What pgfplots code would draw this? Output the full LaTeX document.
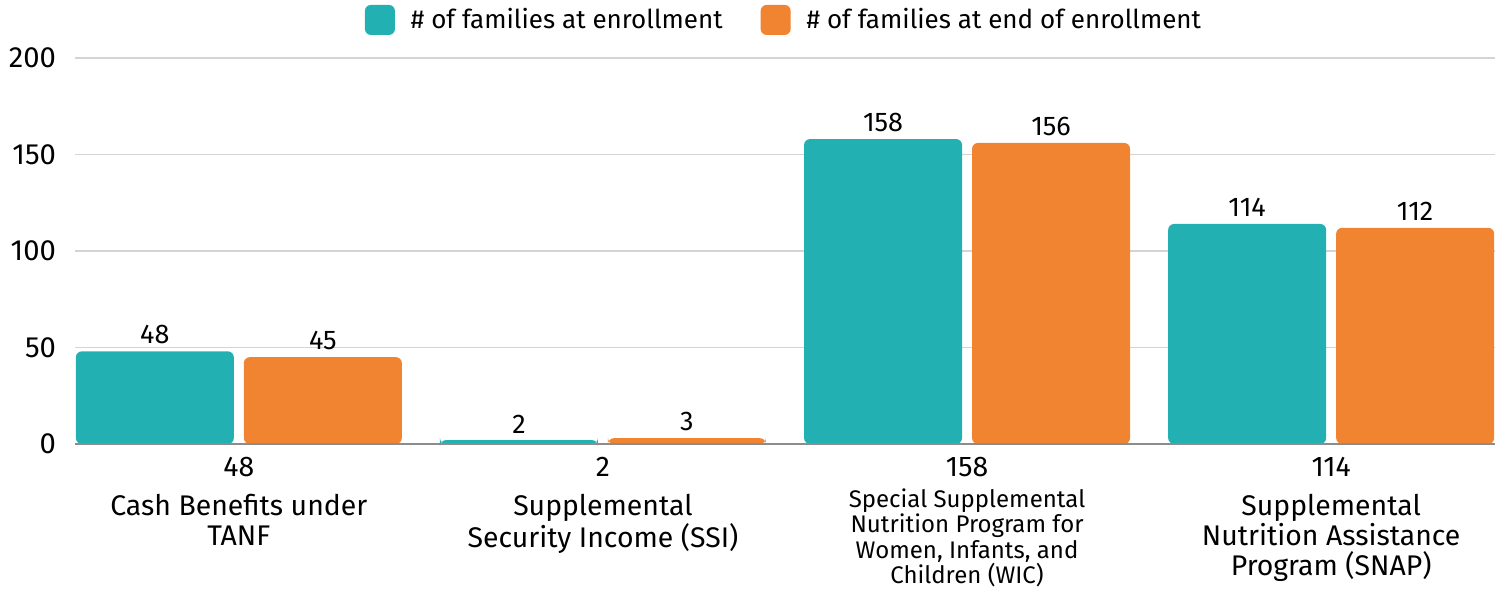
\documentclass[border=0pt]{standalone}
\usepackage{pgfplots}
\pgfplotsset{compat=1.18}
\usepackage{fontspec}
\setmainfont{Fira Sans}
\definecolor{teal1}{HTML}{23B0B3}
\definecolor{orange1}{HTML}{F08431}
\newcommand\sm{\fontsize{12}{12.75}\selectfont}
\begin{document}
\begin{tikzpicture}
\begin{axis}[
  scale only axis, width=710pt, height=193pt,
  xmin=-0.45, xmax=3.45, ymin=0, ymax=200,
  ytick={0,50,100,150,200},
  xtick={0,1,2,3},
  xticklabels={
    {48\\[4.5pt]Cash Benefits under\\TANF},
    {2\\[4.5pt]Supplemental\\Security Income (SSI)},
    {158\\[0.5pt]\sm Special Supplemental\\[-2.25pt]\sm Nutrition Program for\\[-2.25pt]\sm Women, Infants, and\\[-2.25pt]\sm Children (WIC)},
    {114\\[4.5pt]Supplemental\\Nutrition Assistance\\Program (SNAP)}},
  x tick label style={align=center, font=\fontsize{14.2}{15}\selectfont, yshift=-3pt},
  y tick label style={font=\fontsize{14.6}{16}\selectfont, xshift=-6pt},
  /pgf/number format/assume math mode=true,
  major tick length=0pt,
  ymajorgrids, major grid style={draw=black!17, line width=0.6pt},
  axis line style={draw=none},
  ybar, bar width=79pt,
  nodes near coords,
  nodes near coords style={font=\fontsize{13.5}{15}\selectfont, text=black},
  legend style={at={(0.5,1)}, anchor=south, yshift=9pt, draw=none,
    legend columns=2, font=\fontsize{13}{15}\selectfont,
    /tikz/every even column/.append style={column sep=17pt}},
  legend image code/.code={\fill[#1] (0pt,-7.5pt) rectangle (15pt,7.5pt); \path (21pt,0pt);},
  clip=false,
]
\addplot[fill=teal1, draw=none, bar shift=-42pt, rounded corners=3pt] coordinates {(0,48) (1,2) (2,158) (3,114)};
\addplot[fill=orange1, draw=none, bar shift=42pt, rounded corners=3pt] coordinates {(0,45) (1,3) (2,156) (3,112)};
\legend{\# of families at enrollment, \# of families at end of enrollment}
\draw[black!45, line width=0.6pt] (rel axis cs:0,0) -- (rel axis cs:1,0);
\coordinate (LL) at (rel axis cs:0,0);
\coordinate (UR) at (rel axis cs:1,1);
\end{axis}
\pgfresetboundingbox
\path ([shift={(-37.5pt,-74pt)}]LL) rectangle ([shift={(4.5pt,29pt)}]UR);
\end{tikzpicture}
\end{document}
